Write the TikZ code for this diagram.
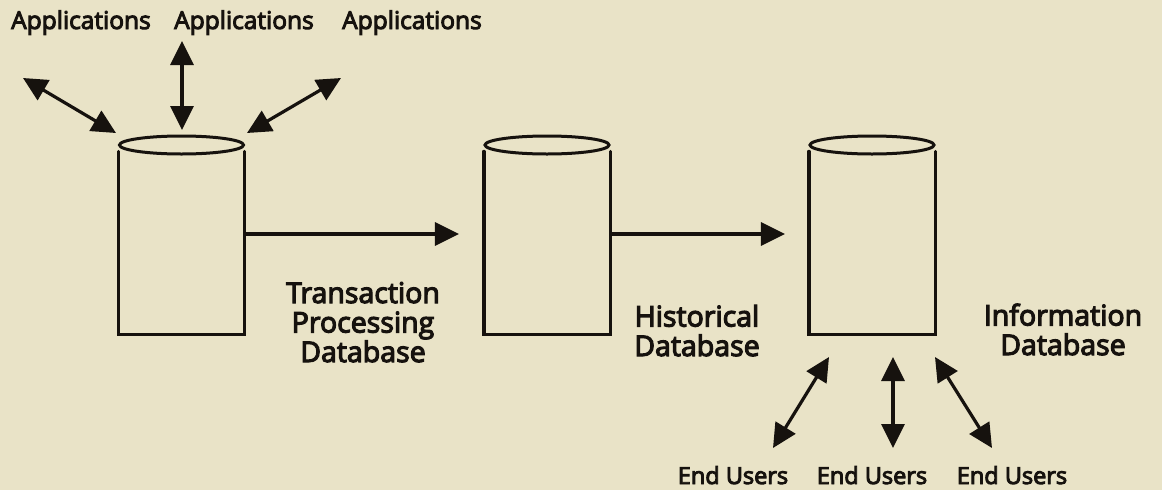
\documentclass[tikz,border=0pt]{standalone}
\usepackage{fontspec}
\setmainfont{Open Sans}[FakeBold=4]
\usetikzlibrary{arrows.meta,shapes.geometric}
\definecolor{paper}{RGB}{233,227,199}
\definecolor{ink}{RGB}{22,18,14}

\begin{document}
\begin{tikzpicture}[x=1pt,y=-1pt,line width=3.2pt,draw=ink,text=ink,
  dbtop/.style={ellipse,draw=ink,line width=3pt,minimum width=124pt,minimum height=18pt,inner sep=0pt},
  dbbody/.style={minimum width=123pt,minimum height=180pt,inner sep=0pt},
  flow/.style={-{Triangle[length=24pt,width=23pt]}},
  twoway/.style={{Triangle[length=24pt,width=23pt]}-{Triangle[length=24pt,width=23pt]}},
  lbl/.style={font=\fontsize{28.5}{29.5}\selectfont,align=center,inner sep=0pt,anchor=base},
  tag/.style={font=\fontsize{23.5}{25}\selectfont,inner sep=0pt,anchor=base},
  apptag/.style={tag,font=\fontsize{24.5}{25}\selectfont}]

% page
\fill[paper] (0,0) rectangle (1162,490);
\useasboundingbox (0,0) rectangle (1162,490);

% three database cylinders: open-topped body with a separate lid
\foreach \n/\x in {1/181.5,2/547,3/872}{
  \node[dbbody] (body\n) at (\x,243) {};
  \node[dbtop]  (top\n)  at (\x,145) {};
  \draw[line cap=round] (body\n.north west) -- (body\n.south west)
        -- (body\n.south east) -- (body\n.north east);
}

% flow between databases
\draw[flow] ([yshift=9pt]body1.east) -- ([yshift=9pt,xshift=-25pt]body2.west);
\draw[flow] ([yshift=9pt]body2.east) -- ([yshift=9pt,xshift=-24pt]body3.west);

% applications around the transaction database
\node[apptag] (app1) at (81,29)  {Applications};
\node[apptag] (app2) at (244,29) {Applications};
\node[apptag] (app3) at (412,29) {Applications};
\coordinate (a1) at (23,78);
\coordinate (a2) at (182,41);
\coordinate (a3) at (341,78);
\coordinate (t1) at (116,133);
\coordinate (t2) at (182,130);
\coordinate (t3) at (247,133);
\draw[twoway] (a1) -- (t1);
\draw[twoway] (a2) -- (t2);
\draw[twoway] (a3) -- (t3);

% end users below the information database
\node[tag] (usr1) at (733,484)  {End Users};
\node[tag] (usr2) at (872,484)  {End Users};
\node[tag] (usr3) at (1012,484) {End Users};
\coordinate (u1) at (773,448);
\coordinate (u2) at (893,448);
\coordinate (u3) at (992,448);
\coordinate (b1) at (829,357);
\coordinate (b2) at (893,357);
\coordinate (b3) at (935,357);
\draw[twoway] (u1) -- (b1);
\draw[twoway] (u2) -- (b2);
\draw[twoway] (u3) -- (b3);

% database names (base anchor sits on the last line)
\node[lbl] (lab1) at (363,362)  {Transaction\\Processing\\Database};
\node[lbl] (lab2) at (697,356)  {Historical\\Database};
\node[lbl] (lab3) at (1063,355) {Information\\Database};
\end{tikzpicture}
\end{document}
